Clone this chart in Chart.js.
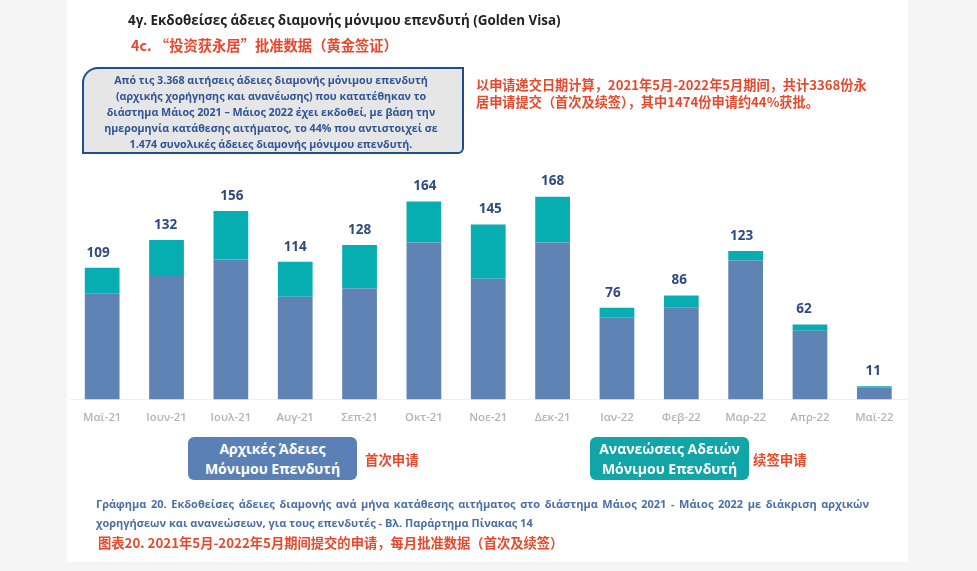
<!DOCTYPE html>
<html lang="el">
<head>
<meta charset="utf-8">
<title>Golden Visa</title>
<script src="https://cdn.jsdelivr.net/npm/chart.js@4"></script>
<style>
  html, body { margin: 0; padding: 0; width: 977px; height: 571px; overflow: hidden; background: #f5f5f5; }
  body { position: relative; font-family: "Open Sans", "Noto Sans CJK SC", sans-serif; font-weight: 700; filter: blur(0.35px); }
  #panel { position: absolute; left: 67px; top: 0; width: 841px; height: 562px; background: #fff; }
  canvas { position: absolute; left: 0; top: 0; }
  .t { position: absolute; white-space: nowrap; }
  .red { color: #e8482c; font-family: "Noto Sans CJK SC", sans-serif; }
  #title { left: 128px; top: 11px; font-size: 13.4px; line-height: 18px; color: #222; }
  #title2 { left: 131px; top: 35px; font-size: 14.3px; line-height: 20px; }
  #note { position: absolute; left: 82px; top: 67px; width: 374px; height: 80px; padding: 3px 4px 0 0; background: #e6e6e6;
    border: 2px solid #1f4e8c; border-radius: 16px 0 6px 0; color: #2f5597; font-size: 10.7px; line-height: 16px; text-align: center; }
  #noteZh { left: 476px; top: 76px; font-size: 13.2px; line-height: 17px; }
  .key { position: absolute; top: 437px; height: 43px; border-radius: 6px; color: #fff; font-size: 14px; line-height: 20px; text-align: center; padding-top: 2px; box-sizing: border-box; }
  #keyA { left: 188px; width: 169px; background: #5b80b5; }
  #keyB { left: 590px; width: 159px; background: #12a5a8; }
  .keyZh { top: 450px; font-size: 13.4px; line-height: 18px; }
  #cap1 { left: 96px; top: 494px; width: 773px; font-size: 11px; line-height: 19px; color: #4a6fa5; white-space: normal; text-align: justify; text-align-last: justify; }
  #cap2 { left: 96px; top: 513px; font-size: 11px; line-height: 19px; color: #4a6fa5; }
  #cap3 { left: 98px; top: 533px; font-size: 13.3px; line-height: 20px; }
</style>
</head>
<body>
<div id="panel"></div>
<canvas id="chart" width="977" height="571"></canvas>
<div class="t" id="title">4γ. Εκδοθείσες άδειες διαμονής μόνιμου επενδυτή (Golden Visa)</div>
<div class="t red" id="title2">4c. “投资获永居”批准数据（黄金签证）</div>
<div id="note">Από τις 3.368 αιτήσεις άδειες διαμονής μόνιμου επενδυτή<br>(αρχικής χορήγησης και ανανέωσης) που κατατέθηκαν το<br>διάστημα Μάιος 2021 – Μάιος 2022 έχει εκδοθεί, με βάση την<br>ημερομηνία κατάθεσης αιτήματος, το 44% που αντιστοιχεί σε<br>1.474 συνολικές άδειες διαμονής μόνιμου επενδυτή.</div>
<div class="t red" id="noteZh">以申请递交日期计算，2021年5月-2022年5月期间，共计3368份永<br>居申请提交（首次及续签），其中1474份申请约44%获批。</div>
<div class="key" id="keyA">Αρχικές Άδειες<br>Μόνιμου Επενδυτή</div>
<div class="t red keyZh" style="left:365px">首次申请</div>
<div class="key" id="keyB">Ανανεώσεις Αδειών<br>Μόνιμου Επενδυτή</div>
<div class="t red keyZh" style="left:753px">续签申请</div>
<div class="t" id="cap1">Γράφημα 20. Εκδοθείσες άδειες διαμονής ανά μήνα κατάθεσης αιτήματος στο διάστημα Μάιος 2021 - Μάιος 2022 με διάκριση αρχικών</div>
<div class="t" id="cap2">χορηγήσεων και ανανεώσεων, για τους επενδυτές - Βλ. Παράρτημα Πίνακας 14</div>
<div class="t red" id="cap3">图表20. 2021年5月-2022年5月期间提交的申请，每月批准数据（首次及续签）</div>
<script>
const months = ["Μαϊ-21", "Ιουν-21", "Ιουλ-21", "Αυγ-21", "Σεπ-21", "Οκτ-21", "Νοε-21", "Δεκ-21", "Ιαν-22", "Φεβ-22", "Μαρ-22", "Απρ-22", "Μαϊ-22"];
const initial = [88, 103, 116, 85, 92, 130, 100, 130, 68, 76, 115, 57, 10];
const renewals = [21, 29, 40, 29, 36, 34, 45, 38, 8, 10, 8, 5, 1];

// the labels in the original were placed by hand, not quite centred
const labelNudgeX = [-4, -1, 1, 0, 0, 1, 2, 0, -4, -2, -4, -6, -1];

// totals above each stack
const totalLabels = {
  id: "totalLabels",
  afterDatasetsDraw(chart) {
    const { ctx, scales } = chart;
    ctx.save();
    ctx.font = "700 13.5px 'Open Sans'";
    ctx.fillStyle = "#2f4a80";
    ctx.textAlign = "center";
    ctx.textBaseline = "middle";
    months.forEach((m, i) => {
      const total = initial[i] + renewals[i];
      ctx.fillText(total, scales.x.getPixelForValue(i) + labelNudgeX[i], scales.y.getPixelForValue(total) - 15);
    });
    ctx.restore();
  },
};

new Chart(document.getElementById("chart"), {
  type: "bar",
  plugins: [totalLabels],
  data: {
    labels: months,
    datasets: [
      { label: "Αρχικές Άδειες", data: initial, backgroundColor: "#6083b6" },
      { label: "Ανανεώσεις Αδειών", data: renewals, backgroundColor: "#06aeb2" },
    ],
  },
  options: {
    responsive: false,
    animation: false,
    layout: { padding: { left: 70, right: 70.5, top: 158, bottom: 142 } },
    datasets: { bar: { categoryPercentage: 0.54, barPercentage: 1 } },
    plugins: { legend: { display: false }, tooltip: { enabled: false } },
    scales: {
      x: {
        stacked: true,
        grid: { display: false },
        border: { color: "#efefef" },
        ticks: { color: "#b3b3b3", font: { family: "Open Sans", size: 11.3, weight: "600" }, maxRotation: 0, padding: 4 },
      },
      y: { stacked: true, display: false, min: 0, max: 200 },
    },
  },
});
</script>
</body>
</html>
